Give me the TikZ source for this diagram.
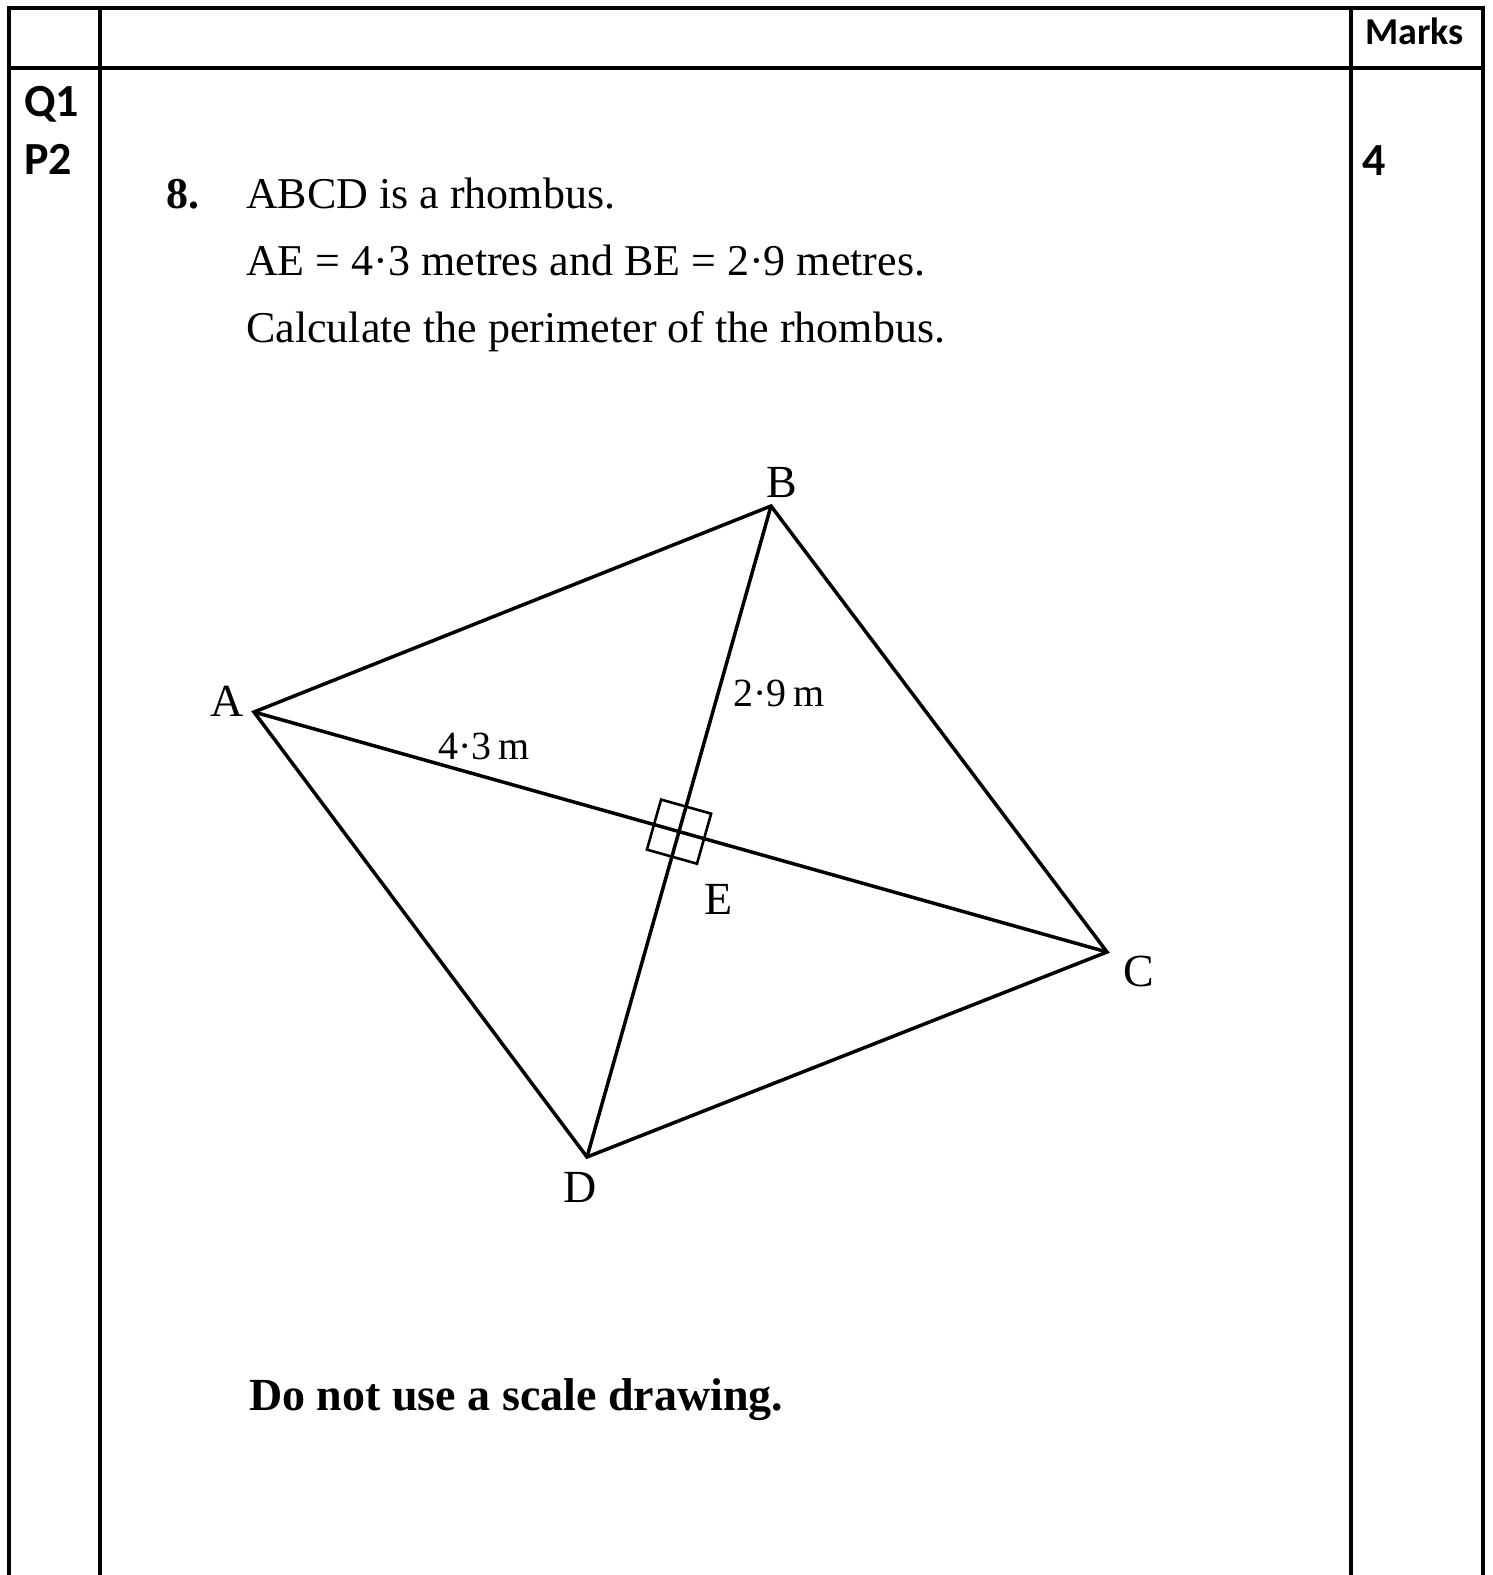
\documentclass[tikz,border=0pt]{standalone}
\usepackage{fontspec}
\setmainfont{Liberation Serif}
\newfontfamily\calibri{Carlito}
\usetikzlibrary{calc}
\begin{document}
\begin{tikzpicture}[x=1pt,y=-1pt,
  tbl/.style={line width=3.3pt},
  edge/.style={line width=3.5pt,line join=miter},
  rt/.style={line width=2.6pt},
  qtxt/.style={anchor=base west,inner sep=0pt,font=\calibri\bfseries\fontsize{46}{52}\selectfont},
  hdr/.style={anchor=base west,inner sep=0pt,font=\calibri\bfseries\fontsize{38}{44}\selectfont},
  body/.style={anchor=base west,inner sep=0pt,font=\fontsize{44}{52}\selectfont},
  lbl/.style={anchor=base,inner sep=0pt,font=\fontsize{46}{52}\selectfont},
  meas/.style={anchor=base,inner sep=0pt,font=\fontsize{40}{46}\selectfont}]
\useasboundingbox (0,0) rectangle (1493,1575);
% table
\draw[tbl] (9,1580) -- (9,8) -- (1483,8) -- (1483,1580);
\draw[tbl] (9,68) -- (1483,68);
\draw[tbl] (100,8) -- (100,1580);
\draw[tbl] (1351,8) -- (1351,1580);
\node[hdr] (marks) at (1365,44) {Marks};
\node[qtxt] (q1) at (24,116) {Q1};
\node[qtxt] (p2) at (24,174) {P2};
\node[qtxt] (four) at (1362,175) {4};
% question text
\node[body,font=\bfseries\fontsize{44}{52}\selectfont] (num) at (166,208) {8.};
\node[body] (l1) at (246,208) {ABCD is a rhombus.};
\node[body] (l2) at (246,275) {AE = 4·3 metres and BE = 2·9 metres.};
\node[body] (l3) at (246,342) {Calculate the perimeter of the rhombus.};
\node[body,font=\bfseries\fontsize{46}{52}\selectfont] (warn) at (249,1410) {Do not use a scale drawing.};
% rhombus
\coordinate (A) at (254,712);
\coordinate (B) at (771,506);
\coordinate (C) at (1107,952);
\coordinate (D) at (587,1157);
\coordinate (E) at (intersection of A--C and B--D);
\draw[edge] (A) -- (B) -- (C) -- (D) -- cycle;
\draw[edge] (A) -- (C);
\draw[edge] (B) -- (D);
\coordinate (uC) at ($(E)!26pt!(C)$);
\coordinate (uA) at ($(E)!26pt!(A)$);
\coordinate (vB) at ($(E)!26pt!(B)$);
\coordinate (vD) at ($(E)!26pt!(D)$);
\draw[rt] ($(uC)+(vB)-(E)$) -- ($(uC)+(vD)-(E)$) -- ($(uA)+(vD)-(E)$) -- ($(uA)+(vB)-(E)$) -- cycle;
% labels
\node[lbl] (la) at (227,716) {A};
\node[lbl] (lb) at (782,497) {B};
\node[lbl] (lc) at (1139,986) {C};
\node[lbl] (ld) at (580,1202) {D};
\node[lbl] (le) at (719,914) {E};
\node[meas] (m1) at (484,759) {4·3\,m};
\node[meas] (m2) at (779,706) {2·9\,m};
\end{tikzpicture}
\end{document}
